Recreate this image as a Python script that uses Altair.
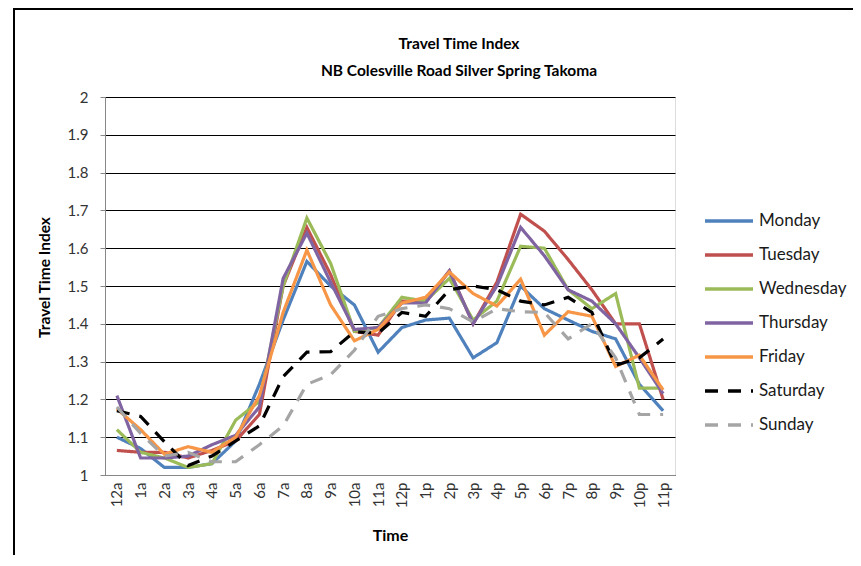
import altair as alt
import pandas as pd

hours = ["12a", "1a", "2a", "3a", "4a", "5a", "6a", "7a", "8a", "9a", "10a", "11a",
         "12p", "1p", "2p", "3p", "4p", "5p", "6p", "7p", "8p", "9p", "10p", "11p"]

days = ["Monday", "Tuesday", "Wednesday", "Thursday", "Friday", "Saturday", "Sunday"]

monday = [1.10, 1.07, 1.02, 1.02, 1.03, 1.09, 1.24, 1.41, 1.565, 1.50, 1.45, 1.325,
          1.39, 1.41, 1.415, 1.31, 1.35, 1.50, 1.44, 1.41, 1.38, 1.36, 1.24, 1.17]
tuesday = [1.065, 1.06, 1.06, 1.045, 1.065, 1.09, 1.16, 1.50, 1.655, 1.53, 1.38, 1.37,
           1.46, 1.46, 1.54, 1.40, 1.51, 1.69, 1.645, 1.57, 1.49, 1.40, 1.40, 1.20]
wednesday = [1.12, 1.06, 1.045, 1.02, 1.03, 1.145, 1.195, 1.50, 1.68, 1.56, 1.38, 1.39,
             1.47, 1.46, 1.52, 1.41, 1.46, 1.605, 1.60, 1.49, 1.44, 1.48, 1.23, 1.23]
thursday = [1.21, 1.045, 1.045, 1.05, 1.08, 1.105, 1.18, 1.52, 1.64, 1.51, 1.385, 1.39,
            1.455, 1.455, 1.54, 1.40, 1.50, 1.655, 1.58, 1.49, 1.46, 1.40, 1.31, 1.215]
friday = [1.175, 1.12, 1.055, 1.075, 1.06, 1.10, 1.21, 1.43, 1.595, 1.45, 1.355, 1.385,
          1.455, 1.47, 1.537, 1.48, 1.447, 1.518, 1.37, 1.432, 1.42, 1.287, 1.317, 1.225]
saturday = [1.17, 1.155, 1.088, 1.025, 1.05, 1.09, 1.13, 1.26, 1.325, 1.326, 1.379, 1.375,
            1.43, 1.42, 1.49, 1.50, 1.49, 1.46, 1.45, 1.47, 1.43, 1.29, 1.31, 1.36]
sunday = [1.18, 1.11, 1.05, 1.06, 1.035, 1.035, 1.08, 1.13, 1.24, 1.265, 1.33, 1.42,
          1.44, 1.45, 1.44, 1.405, 1.44, 1.432, 1.43, 1.36, 1.40, 1.31, 1.16, 1.16]

series = [monday, tuesday, wednesday, thursday, friday, saturday, sunday]
colors = ["#4F81BD", "#C0504D", "#9BBB59", "#8064A2", "#F79646", "#000000", "#A5A5A5"]
dashes = [[1, 0], [1, 0], [1, 0], [1, 0], [1, 0], [13, 10], [13, 10]]

rows = []
for d, vals in zip(days, series):
    for h, v in zip(hours, vals):
        rows.append({"day": d, "hour": h, "value": v})
df = pd.DataFrame(rows)

FONT = "Lato"

legend = alt.Legend(
    title=None, orient="none", legendX=598, legendY=98,
    symbolType="stroke", symbolSize=2304, symbolStrokeWidth=3.5,
    labelFontSize=17, labelFont=FONT, labelColor="#1a1a1a", labelOffset=4,
    rowPadding=-15, padding=0,
)

lines = alt.Chart(df).mark_line(strokeWidth=3.2).encode(
    x=alt.X("hour:N", sort=hours, title="Time",
            axis=alt.Axis(labelAngle=-90, ticks=False, labelFontSize=15, labelFont=FONT,
                          labelColor="#333333", labelPadding=7, domainColor="#888888",
                          titleFont=FONT, titleFontSize=16, titleFontWeight="bold",
                          titlePadding=20, grid=False)),
    y=alt.Y("value:Q", title="Travel Time Index",
            scale=alt.Scale(domain=[1, 2], nice=False, zero=False),
            axis=alt.Axis(values=[1, 1.1, 1.2, 1.3, 1.4, 1.5, 1.6, 1.7, 1.8, 1.9, 2],
                          format="~g", labelFontSize=15, labelFont=FONT, labelColor="#333333",
                          tickSize=5, tickColor="#888888", labelPadding=12,
                          domainColor="#888888", gridColor="#000000", gridWidth=1.2,
                          titleFont=FONT, titleFontSize=15.5, titleFontWeight="bold",
                          titleX=-61, titleY=180, titleAngle=-90, titleBaseline="middle",
                          titleAlign="center")),
    color=alt.Color("day:N", scale=alt.Scale(domain=days, range=colors), legend=legend),
    strokeDash=alt.StrokeDash("day:N", scale=alt.Scale(domain=days, range=dashes), legend=legend),
    order=alt.Order("day_order:Q"),
).transform_calculate(day_order="indexof(['Monday','Tuesday','Wednesday','Thursday','Friday','Saturday','Sunday'], datum.day)")

frame = alt.Chart(pd.DataFrame({"a": [0]})).mark_rect(
    fill=None, stroke="#000000", strokeWidth=2
).encode(
    x=alt.value(-91), x2=alt.value(800), y=alt.value(-88), y2=alt.value(600)
)

chart = alt.layer(lines, frame).properties(
    width=570, height=378,
    title=alt.TitleParams(["Travel Time Index", "NB Colesville Road Silver Spring Takoma"],
                          anchor="middle", font=FONT, fontSize=15.5, fontWeight="bold",
                          color="#000000", lineHeight=27, offset=0, dy=71, dx=69),
    autosize=alt.AutoSizeParams(type="none"),
    padding={"left": 97, "top": 89, "right": 178, "bottom": 80},
).configure_view(stroke="#000000", strokeWidth=1.2).configure(background="white")

chart.save("out.html", embed_options={"renderer": "svg", "actions": False})
